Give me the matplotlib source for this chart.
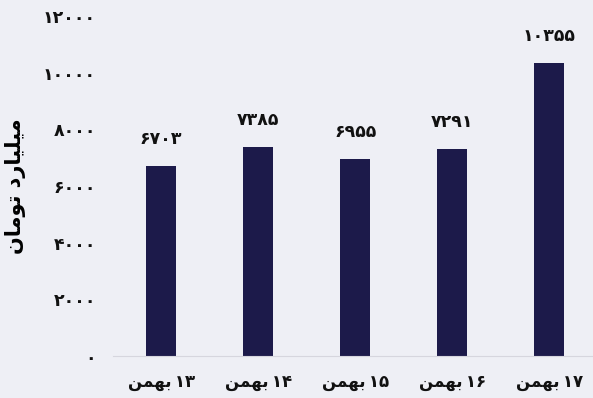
import matplotlib
matplotlib.use("Agg")
import matplotlib.pyplot as plt

# Persian text written in visual order with Arabic presentation forms
# (matplotlib does no shaping / bidi itself)
BAHMAN = "\uFEE6\uFEE4\uFEEC\uFE91"
YLABEL = "\uFEE5\uFE8E\uFEE3\uFEEE\uFE97 \uFEA9\uFEAD\uFE8E\uFEF4\uFEE0\uFEF4\uFEE3"

days = [13, 14, 15, 16, 17]
values = [6703, 7385, 6955, 7291, 10355]
yticks = [0, 2000, 4000, 6000, 8000, 10000, 12000]

FA_DIGITS = str.maketrans("0123456789", "\u06F0\u06F1\u06F2\u06F3\u06F4\u06F5\u06F6\u06F7\u06F8\u06F9")


def fa(n):
    return str(n).translate(FA_DIGITS)


bg = "#eeeff5"
bar_color = "#1c1a4a"

plt.rcParams['font.family'] = ['DejaVu Sans']
plt.rcParams['font.weight'] = 'bold'

fig = plt.figure(figsize=(5.93, 3.98), dpi=100, facecolor=bg)
ax = fig.add_axes([0.19, 0.1055, 0.81, 0.8543])
ax.set_facecolor(bg)

x = list(range(len(days)))
ax.bar(x, values, width=0.31, color=bar_color)
for xi, v in zip(x, values):
    ax.annotate(fa(v), (xi, v), xytext=(0, 13), textcoords="offset points",
                ha="center", va="bottom", fontsize=12.5, fontweight="bold", color="#111111")

ax.set_xlim(-0.5, 4.45)
ax.set_ylim(0, 12000)
ax.set_yticks(yticks)
ax.set_yticklabels([fa(t) for t in yticks], fontsize=12.5, fontweight="bold")
ax.set_xticks(x)
ax.set_xticklabels([BAHMAN + "\u2009" + fa(d) for d in days], fontsize=12, fontweight="bold")
ax.tick_params(axis="both", length=0, colors="#111111")
ax.tick_params(axis="y", pad=12)
ax.tick_params(axis="x", pad=12)

for s in ["top", "right", "left"]:
    ax.spines[s].set_visible(False)
ax.spines["bottom"].set_color("#d6d6de")

ax.set_ylabel(YLABEL, fontsize=15, fontweight="bold", labelpad=12)

fig.savefig("out.png", dpi=100, facecolor=bg)
